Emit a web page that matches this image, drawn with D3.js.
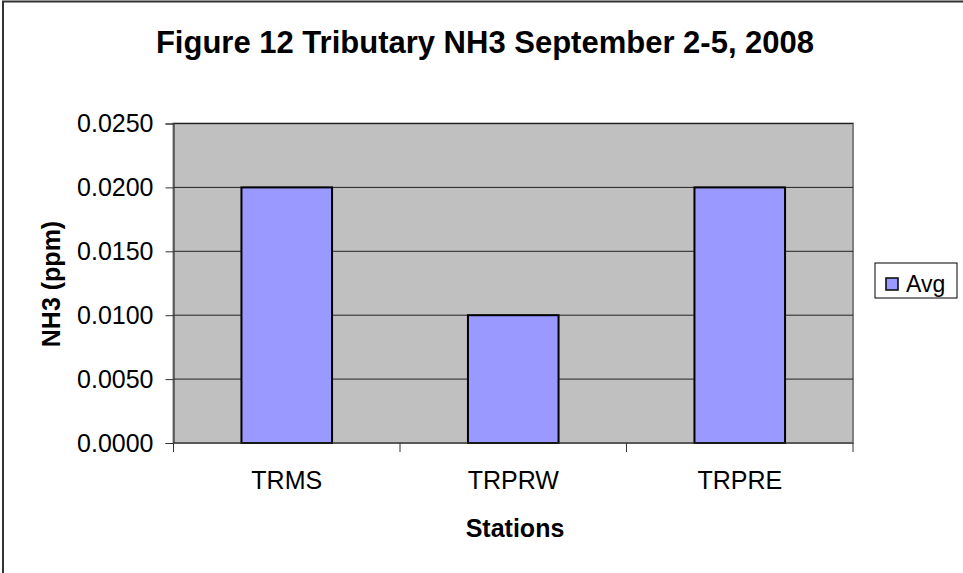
<!DOCTYPE html>
<html><head><meta charset="utf-8">
<script src="https://cdn.jsdelivr.net/npm/d3@7"></script>
<style>body{margin:0;background:#fff}svg{display:block;font-family:"Liberation Sans",Arial,sans-serif}</style>
</head><body>
<svg id="c" width="963" height="573"></svg>
<script>
const categories = ["TRMS", "TRPRW", "TRPRE"];
const avgValues = [0.02, 0.01, 0.02];
const yTicks = [0, 0.005, 0.01, 0.015, 0.02, 0.025];
const seriesName = "Avg";
const titleText = "Figure 12 Tributary NH3 September 2-5, 2008";

const svg = d3.select("#c");
svg.append("rect").attr("x", 3).attr("y", 1.5).attr("width", 1000).attr("height", 1000)
  .attr("fill", "#fff").attr("stroke", "#333").attr("stroke-width", 2);

const L = 173.5, R = 853, T = 123.5, B = 443;
const x = d3.scaleBand().domain(categories).range([L, R]).paddingInner(0.6).paddingOuter(0.3);
const y = d3.scaleLinear().domain([0, 0.025]).range([B, T]);

svg.append("rect").attr("x", L).attr("y", T).attr("width", R - L).attr("height", B - T)
  .attr("fill", "#c0c0c0").attr("stroke", "#808080").attr("stroke-width", 2);

svg.append("g").selectAll("line").data(yTicks.filter(d => d > 0)).join("line")
  .attr("x1", L).attr("x2", R).attr("y1", d => y(d)).attr("y2", d => y(d))
  .attr("stroke", "#222").attr("stroke-width", 1);

svg.append("g").selectAll("rect").data(categories).join("rect")
  .attr("x", d => x(d)).attr("width", x.bandwidth())
  .attr("y", (d, i) => y(avgValues[i])).attr("height", (d, i) => B - y(avgValues[i]))
  .attr("fill", "#9999ff").attr("stroke", "#000").attr("stroke-width", 2);

const yAxis = d3.axisLeft(y).tickValues(yTicks).tickFormat(d3.format(".4f")).tickSizeOuter(0).tickSize(8).tickPadding(12);
const gy = svg.append("g").attr("transform", `translate(${L},0)`).call(yAxis);
gy.select(".domain").attr("stroke", "#333");
gy.selectAll(".tick line").attr("stroke", "#333");
gy.selectAll("text").attr("font-size", 25).attr("fill", "#000").attr("font-family", "Liberation Sans, Arial, sans-serif");

const xb = d3.scaleLinear().domain([0, 3]).range([L, R]);
const gx = svg.append("g").attr("transform", `translate(0,${B})`);
gx.append("line").attr("x1", L).attr("x2", R).attr("stroke", "#333");
gx.selectAll("line.t").data([0, 1, 2, 3]).join("line").attr("class", "t")
  .attr("x1", d => xb(d)).attr("x2", d => xb(d)).attr("y1", 0).attr("y2", 9).attr("stroke", "#333");
gx.selectAll("text").data(categories).join("text")
  .attr("x", d => x(d) + x.bandwidth() / 2).attr("y", 46)
  .attr("text-anchor", "middle").attr("font-size", 25).text(d => d);

svg.append("text").attr("x", 485).attr("y", 53).attr("text-anchor", "middle")
  .attr("font-size", 31).attr("font-weight", "bold").text(titleText);
svg.append("text").attr("x", 515).attr("y", 537).attr("text-anchor", "middle")
  .attr("font-size", 25).attr("font-weight", "bold").text("Stations");
svg.append("text").attr("transform", "translate(60,284) rotate(-90)").attr("text-anchor", "middle")
  .attr("font-size", 25).attr("font-weight", "bold").text("NH3 (ppm)");

const lg = svg.append("g");
lg.append("rect").attr("x", 875).attr("y", 263).attr("width", 82).attr("height", 35)
  .attr("fill", "#fff").attr("stroke", "#000").attr("stroke-width", 1);
lg.append("rect").attr("x", 886).attr("y", 278).attr("width", 12).attr("height", 12)
  .attr("fill", "#9999ff").attr("stroke", "#000").attr("stroke-width", 1.5);
lg.append("text").attr("x", 906).attr("y", 292).attr("font-size", 23).text(seriesName);
</script>
</body></html>
